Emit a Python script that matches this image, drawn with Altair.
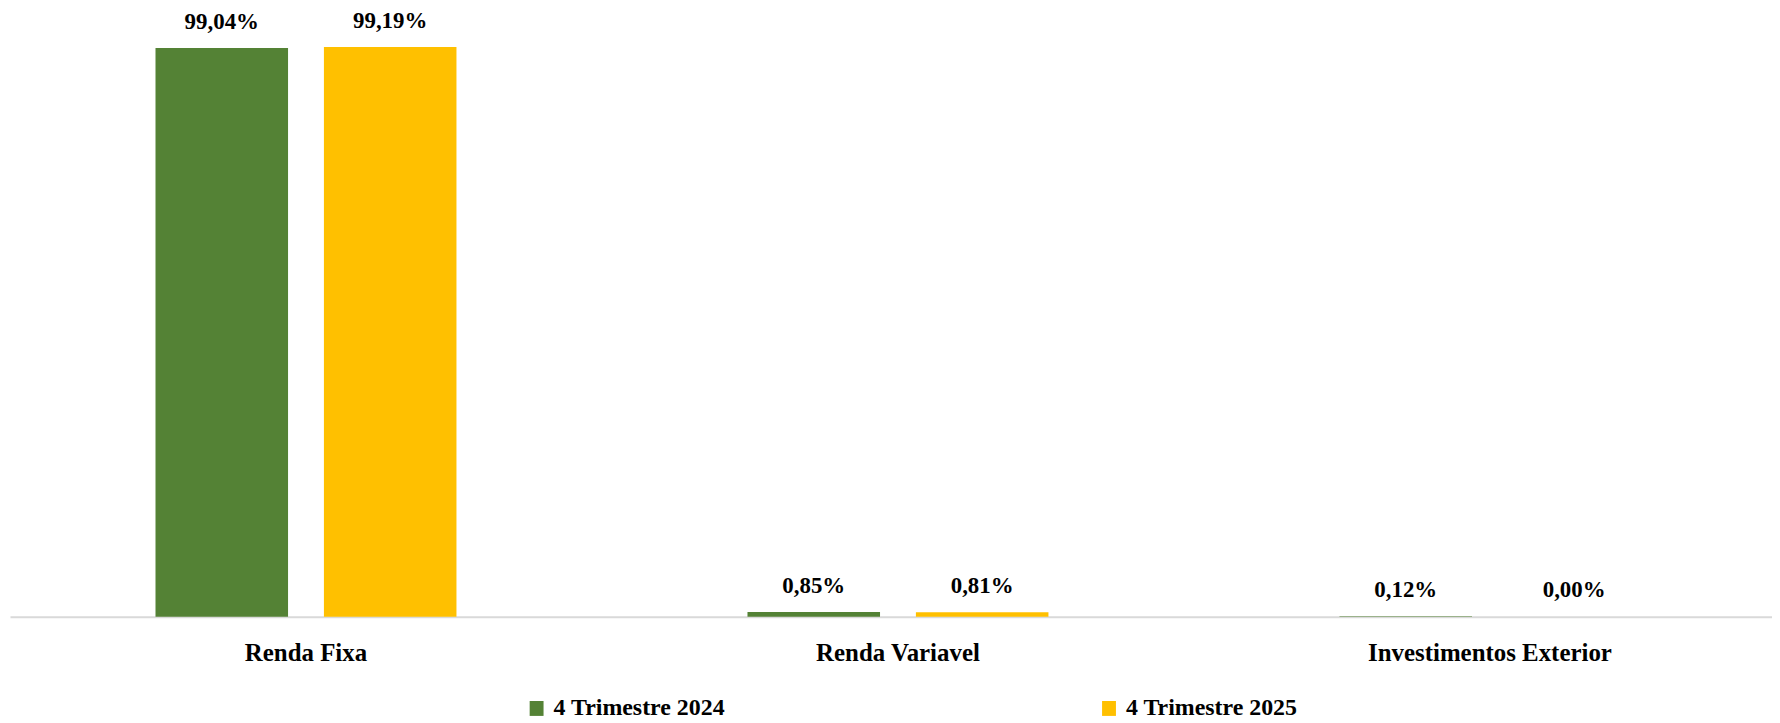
import altair as alt
import pandas as pd

categories = ["Renda Fixa", "Renda Variavel", "Investimentos Exterior"]
series = ["4 Trimestre 2024", "4 Trimestre 2025"]
values_2024 = [99.04, 0.85, 0.12]
values_2025 = [99.19, 0.81, 0.00]
colors = ["#548235", "#FFC000"]

rows = []
for c, v in zip(categories, values_2024):
    rows.append({"Categoria": c, "Serie": series[0], "Valor": v})
for c, v in zip(categories, values_2025):
    rows.append({"Categoria": c, "Serie": series[1], "Valor": v})
df = pd.DataFrame(rows)

FONT = "Liberation Serif"

base = alt.Chart(df).transform_calculate(
    label="replace(format(datum.Valor, '.2f'), '.', ',') + '%'"
).encode(
    x=alt.X(
        "Categoria:N",
        sort=categories,
        scale=alt.Scale(paddingInner=0, paddingOuter=0, range=[0, 1784]),
        axis=alt.Axis(
            title=None,
            labelAngle=0,
            ticks=False,
            domainColor="#d9d9d9",
            domainWidth=2,
            labelFont=FONT,
            labelFontSize=25,
            labelFontWeight="bold",
            labelColor="#000000",
            labelPadding=24,
            labelLimit=700,
        ),
    ),
    xOffset=alt.XOffset(
        "Serie:N", sort=series, scale=alt.Scale(paddingInner=0.213, paddingOuter=0.864)
    ),
    y=alt.Y("Valor:Q", scale=alt.Scale(domain=[0, 100]), axis=None),
)

bars = base.mark_bar().encode(
    color=alt.Color(
        "Serie:N",
        sort=series,
        scale=alt.Scale(domain=series, range=colors),
        legend=alt.Legend(
            title=None,
            orient="none",
            legendX=517,
            legendY=657,
            direction="horizontal",
            columns=2,
            padding=0,
            symbolType="M-0.93,-1H0.93V1H-0.93Z",
            symbolSize=225,
            symbolStrokeWidth=0,
            labelFont=FONT,
            labelFontSize=24,
            labelFontWeight="bold",
            labelColor="#000000",
            labelOffset=5,
            columnPadding=373,
            labelLimit=400,
        ),
    )
)

text = base.mark_text(
    dy=-26.5, font=FONT, fontSize=23, fontWeight="bold", color="#000000"
).encode(text="label:N")

chart = alt.layer(bars, text).properties(
    width=1770,
    height=577,
    padding={"left": 2, "top": 33, "right": 0, "bottom": 105},
    autosize=alt.AutoSizeParams(type="none"),
    background="#ffffff",
).configure_view(stroke=None)

chart.save("out.html", embed_options={"renderer": "svg", "actions": False})
